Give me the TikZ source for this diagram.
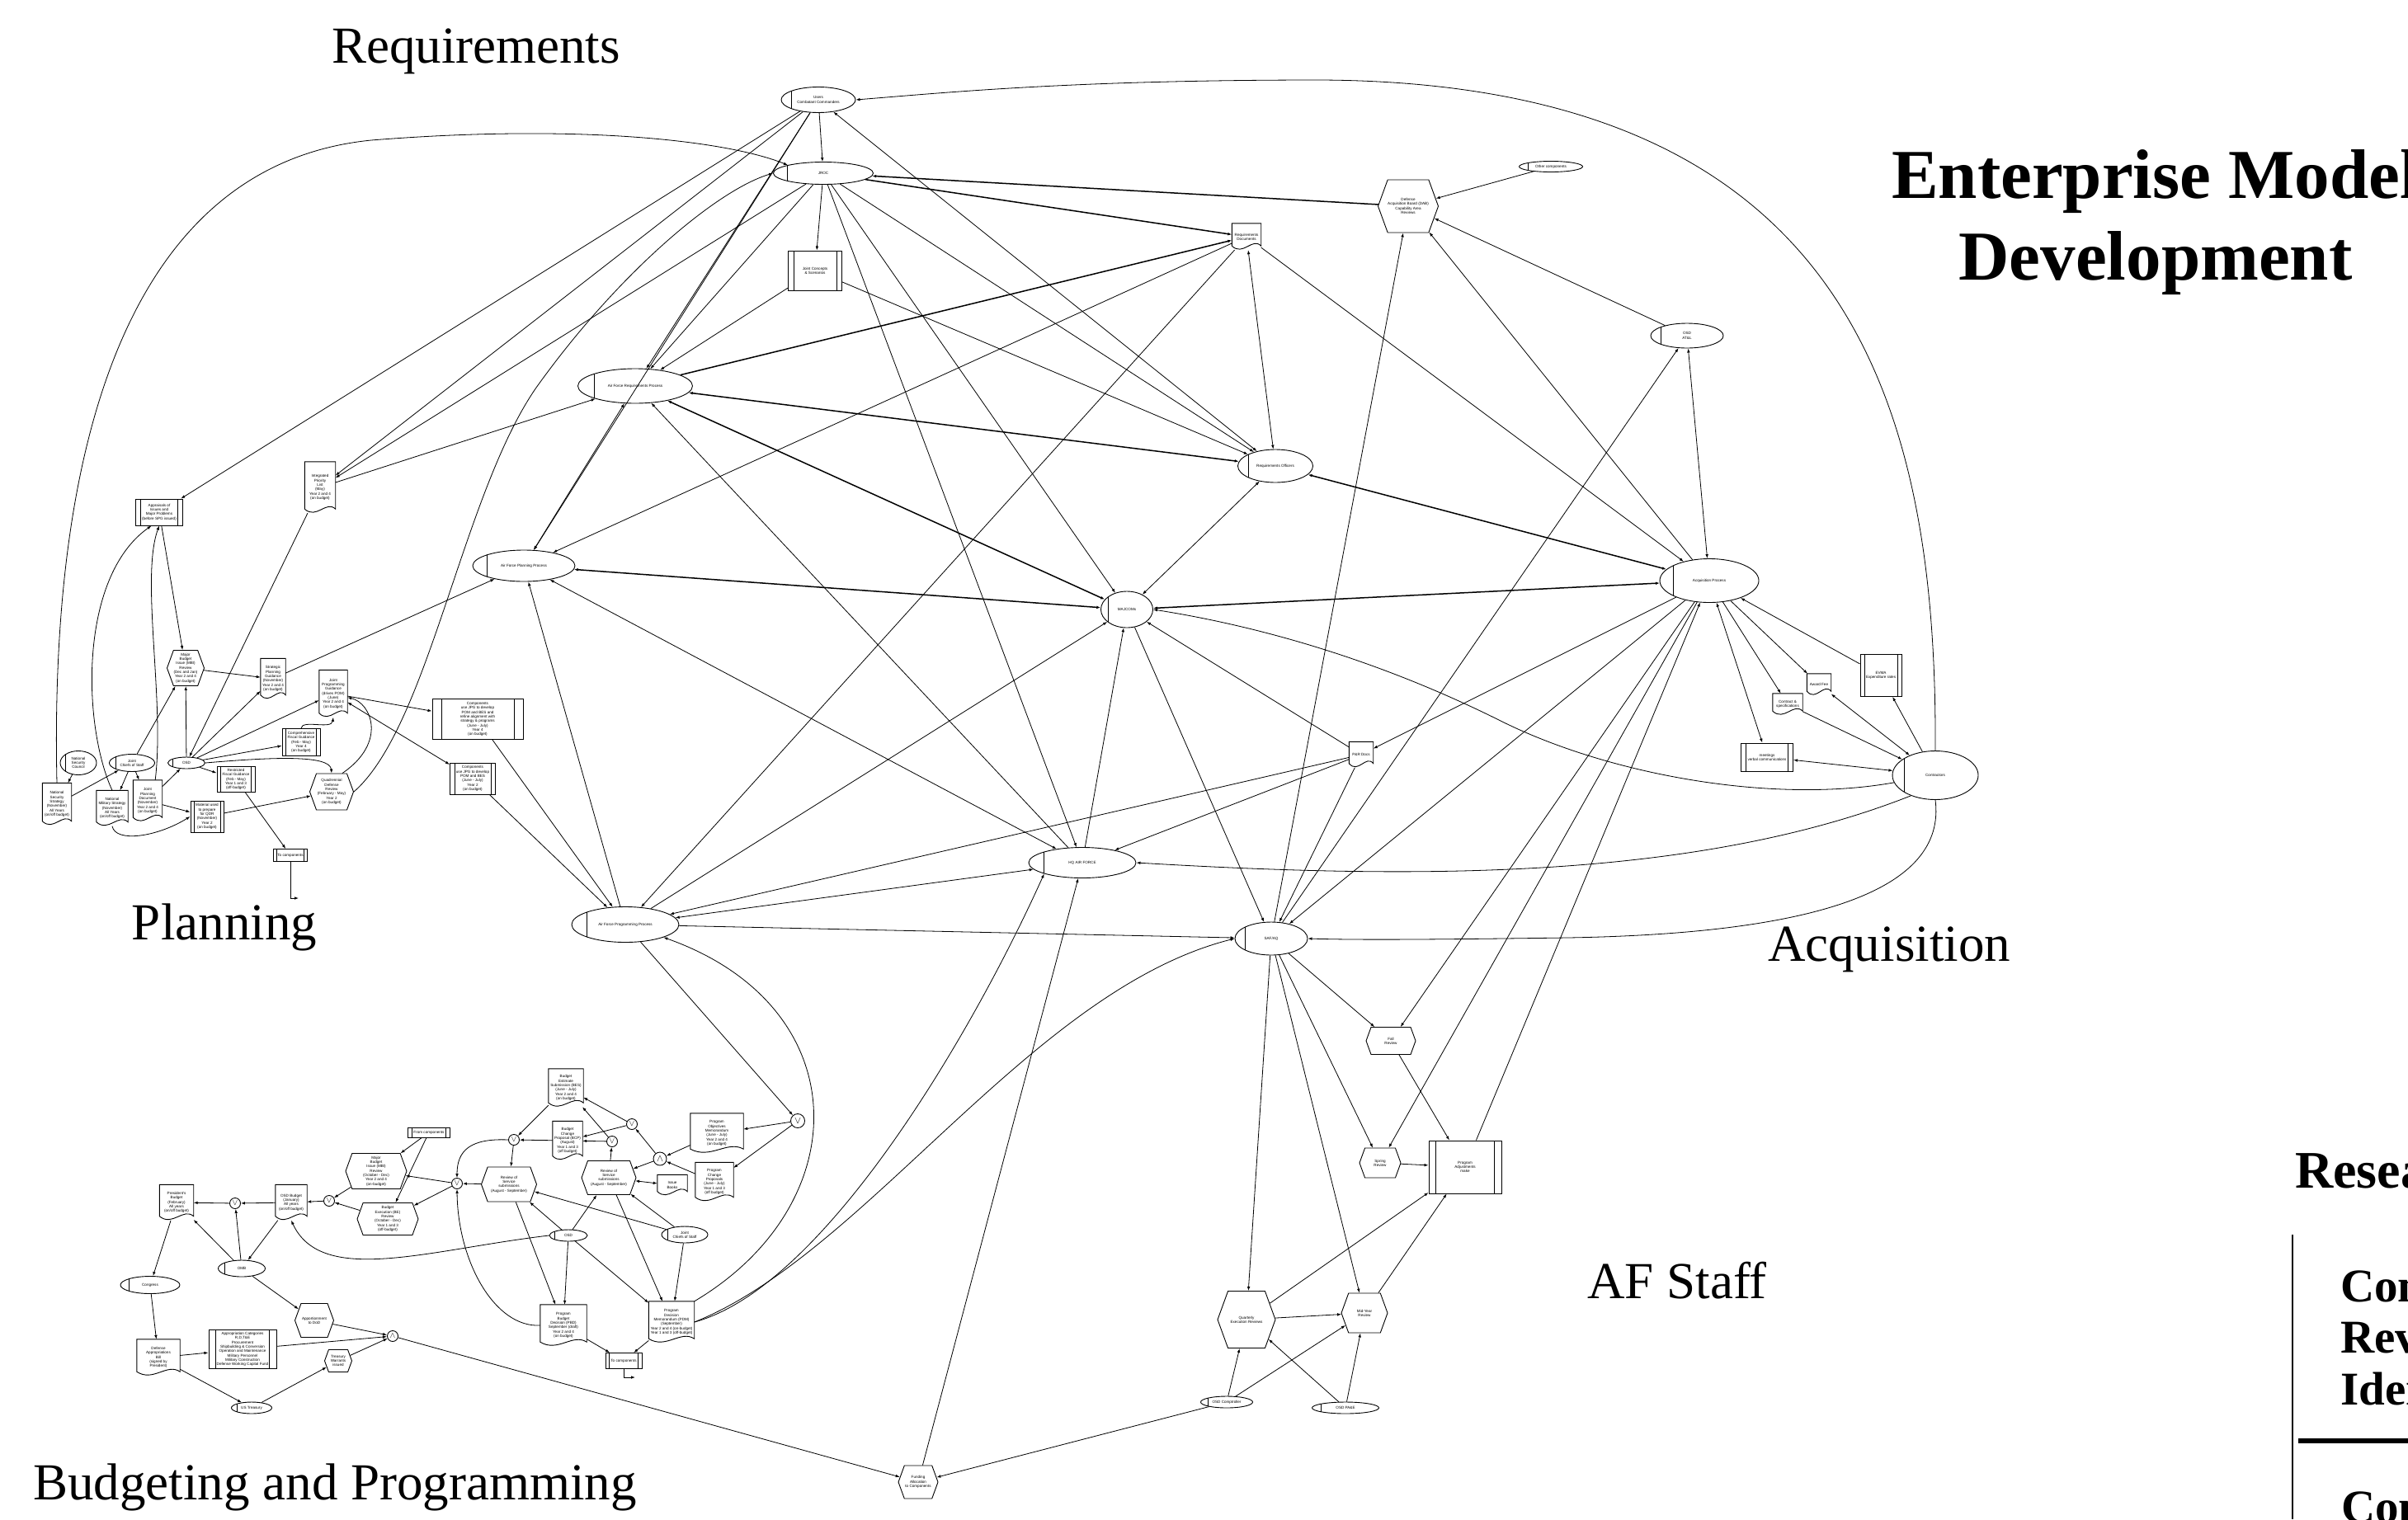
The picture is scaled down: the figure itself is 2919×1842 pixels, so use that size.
\documentclass[tikz,border=0pt]{standalone}
\usepackage{fontspec}
\setmainfont{Liberation Serif}
\newfontfamily\nodefont{Liberation Sans}
\usetikzlibrary{arrows.meta, calc, shapes.geometric, shapes.symbols}

\tikzset{
  small/.style={font=\nodefont\fontsize{4.6}{5.3}\selectfont},
  area/.style={font=\fontsize{63}{70}\selectfont, inner sep=0pt},
  actor/.style={small, draw, ellipse, line width=.9pt, align=center, inner sep=0pt,
    path picture={\draw[line width=.9pt]
      ($(path picture bounding box.north west)!.14!(path picture bounding box.north east)$) --
      ($(path picture bounding box.south west)!.14!(path picture bounding box.south east)$);}},
  proc/.style={small, draw, rectangle, line width=.9pt, align=center, inner sep=1pt,
    path picture={\draw[line width=.9pt]
      ($(path picture bounding box.north west)!.1!(path picture bounding box.north east)$) --
      ($(path picture bounding box.south west)!.1!(path picture bounding box.south east)$)
      ($(path picture bounding box.north east)!.1!(path picture bounding box.north west)$) --
      ($(path picture bounding box.south east)!.1!(path picture bounding box.south west)$);}},
  hexa/.style={small, draw, signal, signal to=east and west, signal pointer angle=140,
    line width=.9pt, align=center, inner sep=0pt},
  doc/.style={small, align=center, inner sep=1pt,
    execute at end node={\\[1pt]\mbox{}},
    append after command={\pgfextra{\draw[line width=.9pt]
      (\tikzlastnode.north west) -- (\tikzlastnode.north east)
      -- ([yshift=5pt]\tikzlastnode.south east)
      .. controls ($(\tikzlastnode.south east)!.3!(\tikzlastnode.south west)+(0pt,16pt)$)
      and ($(\tikzlastnode.south east)!.62!(\tikzlastnode.south west)+(0pt,-8pt)$)
      .. ([yshift=5pt]\tikzlastnode.south west) -- cycle;}}},
  orj/.style={draw, circle, line width=.9pt, inner sep=0pt, minimum size=13,
    font=\fontsize{10}{10}\selectfont},
  flow/.style={draw, line width=.8pt, -{Latex[length=5pt,width=3.6pt]}},
  twoway/.style={flow, {Latex[length=5pt,width=3.6pt]}-{Latex[length=5pt,width=3.6pt]}},
  heavy/.style={line width=1.5pt}
}

\begin{document}
\begin{tikzpicture}[x=1pt, y=-1pt]
\fill[white] (0,0) rectangle (2919,1842);
\useasboundingbox (0,0) rectangle (2919,1842);

\node[area] (lreq) at (577,62) {Requirements};
\node[area] (lplan) at (272,1124) {Planning};
\node[area] (lbud) at (406,1803) {Budgeting and Programming};
\node[area] (lacq) at (2290,1151) {Acquisition};
\node[area] (lstaff) at (2033,1553) {AF Staff};
\node[font=\bfseries\fontsize{85}{99}\selectfont, align=center, inner sep=0pt] (title) at (2613,270) {Enterprise Model\\Development};
\node[font=\bfseries\fontsize{64}{64}\selectfont, anchor=base west, inner sep=0pt] (research) at (2782,1440) {Resea};
\node[font=\bfseries\fontsize{57}{57}\selectfont, anchor=base west, inner sep=0pt] (rconA) at (2837,1578) {Con};
\node[font=\bfseries\fontsize{57}{57}\selectfont, anchor=base west, inner sep=0pt] (rrev) at (2837,1640) {Rev};
\node[font=\bfseries\fontsize{57}{57}\selectfont, anchor=base west, inner sep=0pt] (riden) at (2837,1703) {Iden};
\node[font=\bfseries\fontsize{57}{57}\selectfont, anchor=base west, inner sep=0pt] (rconB) at (2838,1846) {Con};
\draw[line width=1.2pt] (2779,1497) -- (2779,1842);
\draw[line width=6pt] (2786,1747) -- (2919,1747);

\node[actor, minimum width=90, minimum height=31] (users) at (992,121) {Users\\Combatant Commanders};
\node[actor, minimum width=121, minimum height=27] (jroc) at (998,210) {JROC};
\node[proc, minimum width=65, minimum height=48] (concepts) at (988,328) {Joint Concepts\\\& Scenarios};
\node[doc, minimum width=35, minimum height=32] (reqdocs) at (1511,287) {Requirements\\Documents};
\node[hexa, minimum width=73, minimum height=64] (dab) at (1707,250) {Defense\\Acquisition Board (DAB)\\Capability Area\\Reviews};
\node[actor, minimum width=77, minimum height=13] (othcomp) at (1880,202) {Other components};
\node[actor, minimum width=88, minimum height=30] (osdatl) at (2045,407) {OSD\\AT\&L};
\node[actor, minimum width=139, minimum height=42] (afreq) at (770,468) {Air Force Requirements Process};
\node[actor, minimum width=91, minimum height=40] (reqoff) at (1546,565) {Requirements Officers};
\node[actor, minimum width=124, minimum height=38] (afplan) at (635,686) {Air Force Planning Process};
\node[actor, minimum width=63, minimum height=44] (majcom) at (1366,739) {MAJCOMs};
\node[actor, minimum width=120, minimum height=53] (acqproc) at (2072,704) {Acquisition Process};
\node[actor, minimum width=104, minimum height=59] (contractors) at (2346,940) {Contractors};
\node[doc, minimum width=29, minimum height=26] (awardfee) at (2205,830) {Award Fee};
\node[doc, minimum width=36, minimum height=26] (contract) at (2167,854) {Contract \&\\specifications};
\node[proc, minimum width=50, minimum height=51] (evma) at (2280,819) {EVMA\\Expenditure rates};
\node[proc, minimum width=63, minimum height=34] (meetings) at (2142,918) {meetings\\verbal communications};
\node[doc, minimum width=29, minimum height=31] (prdocs) at (1650,915) {P\&R Docs};
\node[actor, minimum width=130, minimum height=37] (hqaf) at (1312,1046) {HQ AIR FORCE};
\node[actor, minimum width=88, minimum height=40] (safaq) at (1541,1138) {SAF/AQ};
\node[actor, minimum width=130, minimum height=43] (afprog) at (758,1121) {Air Force Programming Process};

\node[proc, minimum width=57, minimum height=32] (appraisals) at (193,621) {Appraisals of\\Issues and\\Major Problems\\(before SPG issued)};
\node[doc, minimum width=37, minimum height=62] (ipl) at (388,591) {Integrated\\Priority\\List\\(May)\\Year 2 and 4\\(on budget)};
\node[hexa, minimum width=45, minimum height=43] (mbiplan) at (225,810) {Major\\Budget\\Issue (MBI)\\Review\\(Dec and Jan)\\Year 2 and 4\\(on budget)};
\node[doc, minimum width=30, minimum height=49] (spg) at (331,823) {Strategic\\Planning\\Guidance\\(November)\\Year 2 and 4\\(on budget)};
\node[doc, minimum width=34, minimum height=57] (jpg) at (404,841) {Joint\\Programming\\Guidance\\(drives POM)\\(June)\\Year 2 and 4\\(on budget)};
\node[proc, minimum width=46, minimum height=33] (cfg) at (365,900) {Comprehensive\\Fiscal Guidance\\(Feb - May)\\Year 4\\(on budget)};
\node[actor, minimum width=45, minimum height=14] (osdplan) at (226,925) {OSD};
\node[actor, minimum width=44, minimum height=29] (nsc) at (95,925) {National\\Security\\Council};
\node[actor, minimum width=55, minimum height=21] (jcsplan) at (160,925) {Joint\\Chiefs of Staff};
\node[doc, minimum width=35, minimum height=51] (nss) at (69,975) {National\\Security\\Strategy\\(November)\\All Years\\(on/off budget)};
\node[doc, minimum width=38, minimum height=43] (nms) at (136,980) {National\\Military Strategy\\(November)\\All Years\\(on/off budget)};
\node[doc, minimum width=35, minimum height=50] (jpd) at (179,971) {Joint\\Planning\\Document\\(November)\\Year 2 and 4\\(on budget)};
\node[proc, minimum width=46, minimum height=31] (rfg) at (286,945) {Restricted\\Fiscal Guidance\\(Feb - May)\\Year 1 and 3\\(off-budget)};
\node[proc, minimum width=40, minimum height=38] (qdrmat) at (251,990) {Material used\\to prepare\\for QDR\\(November)\\Year 2\\(on budget)};
\node[hexa, minimum width=53, minimum height=44] (qdr) at (402,960) {Quadrennial\\Defense\\Review\\(February - May)\\Year 2\\(on budget)};
\node[proc, minimum width=41, minimum height=15] (tocompA) at (352,1037) {To components};
\node[proc, minimum width=110, minimum height=49] (compyr4) at (579,872) {Components\\use JPG to develop\\POM and BES and\\refine alignment with\\strategy \& programs\\(June - July)\\Year 4\\(on budget)};
\node[proc, minimum width=55, minimum height=38] (compyr2) at (573,944) {Components\\use JPG to develop\\POM and BES\\(June - July)\\Year 2\\(on budget)};
\coordinate (tocompAend) at (362,1089);

\node[proc, minimum width=51, minimum height=12] (fromcomp) at (520,1373) {From components};
\node[hexa, minimum width=74, minimum height=43] (mbibud) at (456,1420) {Major\\Budget\\Issue (MBI)\\Review\\(October - Dec)\\Year 2 and 4\\(on-budget)};
\node[hexa, minimum width=74, minimum height=39] (bereview) at (470,1478) {Budget\\Execution (BE)\\Review\\(October - Dec)\\Year 1 and 3\\(off-budget)};
\node[doc, minimum width=38, minimum height=43] (osdbudget) at (353,1458) {OSD Budget\\(January)\\All years\\(on/off budget)};
\node[doc, minimum width=41, minimum height=43] (presbudget) at (214,1458) {President's\\Budget\\(February)\\All years\\(on/off budget)};
\node[actor, minimum width=57, minimum height=20] (omb) at (293,1538) {OMB};
\node[actor, minimum width=72, minimum height=21] (congress) at (182,1558) {Congress};
\node[doc, minimum width=52, minimum height=44] (approbill) at (192,1646) {Defense\\Appropriations\\Bill\\(signed by\\President)};
\node[proc, minimum width=82, minimum height=47] (approcat) at (294,1636) {Appropriation Categories\\R,D,T\&E\\Procurement\\Shipbuilding \& Conversion\\Operation and Maintenance\\Military Personnel\\Military Construction\\Defense Working Capital Fund};
\node[hexa, minimum width=47, minimum height=41] (apportion) at (381,1601) {Apportionment\\to DoD};
\node[hexa, minimum width=33, minimum height=27] (warrants) at (410,1650) {Treasury\\Warrants\\issued};
\node[actor, minimum width=49, minimum height=14] (treasury) at (305,1707) {US Treasury};
\node[hexa, minimum width=67, minimum height=42] (reviewA) at (617,1436) {Review of\\Service\\submissions\\(August - September)};
\node[hexa, minimum width=66, minimum height=41] (reviewB) at (738,1428) {Review of\\Service\\submissions\\(August - September)};
\node[doc, minimum width=42, minimum height=46] (bes) at (686,1319) {Budget\\Estimate\\Submission (BES)\\(June - July)\\Year 2 and 4\\(on budget)};
\node[doc, minimum width=36, minimum height=47] (bcp) at (688,1383) {Budget\\Change\\Proposal (BCP)\\(August)\\Year 1 and 3\\(off budget)};
\node[doc, minimum width=64, minimum height=48] (pom) at (869,1374) {Program\\Objectives\\Memorandum\\(June - July)\\Year 2 and 4\\(on budget)};
\node[doc, minimum width=46, minimum height=47] (pcp) at (866,1433) {Program\\Change\\Proposals\\(June - July)\\Year 1 and 3\\(off budget)};
\node[doc, minimum width=36, minimum height=25] (issuebooks) at (815,1437) {Issue\\Books};
\node[actor, minimum width=46, minimum height=14] (osdbud) at (689,1498) {OSD};
\node[actor, minimum width=56, minimum height=20] (jcsbud) at (830,1497) {Joint\\Chiefs of Staff};
\node[doc, minimum width=56, minimum height=50] (pbd) at (683,1607) {Program\\Budget\\Decision (PBD)\\September (draft)\\Year 2 and 4\\(on budget)};
\node[doc, minimum width=55, minimum height=50] (pdm) at (814,1603) {Program\\Decision\\Memorandum (PDM)\\(September)\\Year 2 and 4 (on-budget)\\Year 1 and 3 (off-budget)};
\node[proc, minimum width=44, minimum height=19] (tocompB) at (756,1650) {To components};
\coordinate (tocompBend) at (770,1670);
\node[orj] (orA) at (399,1456) {$\vee$};
\node[orj] (orB) at (285,1459) {$\vee$};
\node[orj] (orC) at (554,1435) {$\vee$};
\node[orj] (orD) at (623,1382) {$\vee$};
\node[orj] (orE) at (742,1384) {$\vee$};
\node[orj] (orF) at (766,1363) {$\vee$};
\node[orj, minimum size=17, font=\fontsize{13}{13}\selectfont] (orG) at (967,1359) {$\vee$};
\node[orj] (andA) at (476,1620) {$\wedge$};
\node[orj, minimum size=16, font=\fontsize{12}{12}\selectfont] (andB) at (800,1405) {$\wedge$};

\node[hexa, minimum width=60, minimum height=33] (fall) at (1686,1262) {Fall\\Review};
\node[hexa, minimum width=50, minimum height=36] (spring) at (1673,1410) {Spring\\Review};
\node[proc, minimum width=88, minimum height=64] (progadj) at (1776,1415) {Program\\Adjustments\\make};
\node[hexa, minimum width=70, minimum height=69] (quarterly) at (1511,1600) {Quarterly\\Execution Reviews};
\node[hexa, minimum width=56, minimum height=48] (midyear) at (1654,1592) {Mid-Year\\Review};
\node[actor, minimum width=63, minimum height=14] (osdcomp) at (1487,1700) {OSD Comptroller};
\node[actor, minimum width=81, minimum height=14] (osdpae) at (1631,1707) {OSD PA\&E};
\node[hexa, minimum width=48, minimum height=40] (funding) at (1113,1797) {Funding\\Allocation\\to Components};

\draw[flow] (contractors.north) .. controls (2348,500) and (2250,100) .. (1600,97) .. controls (1300,97) and (1150,112) .. (users.east);
\draw[flow] (users) -- (jroc);
\draw[flow] (users) -- (appraisals);
\draw[flow] (users) -- (ipl);
\draw[flow] (users) -- (afreq);
\draw[flow] (users) -- (afplan);
\draw[twoway] (users) -- (reqoff);
\draw[flow] (jroc) -- (ipl);
\draw[flow] (jroc) -- (afreq);
\draw[flow] (jroc) -- (concepts);
\draw[flow, heavy] (jroc) -- (reqdocs);
\draw[flow, heavy] (dab) -- (jroc);
\draw[flow] (othcomp) -- (dab);
\draw[flow] (osdatl) -- (dab);
\draw[flow] (safaq) -- (dab);
\draw[flow] (acqproc) -- (dab);
\draw[flow] (jroc) -- (reqoff);
\draw[flow] (jroc) -- (majcom);
\draw[flow] (jroc) -- (hqaf);
\draw[flow] (nss.north) .. controls (60,550) and (150,200) .. (450,170) .. controls (700,150) and (880,170) .. (jroc.north west);
\draw[flow] (qdr.east) .. controls (520,880) and (560,600) .. (650,470) .. controls (750,330) and (870,230) .. (jroc.west);
\draw[flow] (concepts) -- (afreq);
\draw[flow] (concepts) -- (reqoff);
\draw[flow, heavy] (afreq) -- (reqdocs);
\draw[flow] (reqdocs) -- (afplan);
\draw[flow] (reqdocs) -- (afprog);
\draw[twoway] (reqdocs) -- (reqoff);
\draw[flow] (reqdocs) -- (acqproc);
\draw[flow] (ipl) -- (afreq);
\draw[twoway, heavy] (afreq) -- (reqoff);
\draw[twoway] (afreq) -- (afplan);
\draw[flow] (hqaf) -- (afreq);
\draw[twoway, heavy] (afreq) -- (majcom);
\draw[twoway, heavy] (afplan) -- (majcom);
\draw[flow] (afprog) -- (afplan);
\draw[twoway] (afplan) -- (hqaf);
\draw[flow] (spg) -- (afplan);
\draw[twoway, heavy] (majcom) -- (acqproc);
\draw[flow] (contractors.190) .. controls (2150,975) and (1950,940) .. (1817,873) .. controls (1650,790) and (1500,755) .. (majcom.east);
\draw[flow] (prdocs) -- (majcom);
\draw[flow] (majcom) -- (safaq);
\draw[flow] (hqaf) -- (majcom);
\draw[twoway] (reqoff) -- (majcom);
\draw[flow] (afprog) -- (majcom);
\draw[twoway, heavy] (reqoff) -- (acqproc);
\draw[twoway] (osdatl) -- (acqproc);
\draw[flow] (safaq) -- (osdatl);
\draw[flow] (acqproc) -- (prdocs);
\draw[flow] (prdocs) -- (afprog);
\draw[flow] (prdocs) -- (hqaf);
\draw[flow] (prdocs) -- (safaq);
\draw[flow] (acqproc) -- (safaq);
\draw[flow] (contractors.south) .. controls (2360,1080) and (2200,1132) .. (1900,1137) .. controls (1750,1139) and (1650,1140) .. (safaq.east);
\draw[flow] (afprog) -- (safaq);
\draw[flow] (contractors.220) .. controls (2050,1070) and (1700,1065) .. (hqaf.east);
\draw[twoway] (hqaf) -- (afprog);

\draw[twoway] (acqproc) -- (meetings);
\draw[flow] (acqproc) -- (contract);
\draw[flow] (acqproc) -- (awardfee);
\draw[flow] (evma) -- (acqproc);
\draw[twoway] (meetings) -- (contractors);
\draw[flow] (contract) -- (contractors);
\draw[twoway] (awardfee) -- (contractors);
\draw[flow] (contractors) -- (evma);

\draw[flow] (safaq) -- (fall);
\draw[flow] (safaq) -- (spring);
\draw[flow] (safaq) -- (quarterly);
\draw[flow] (safaq) -- (midyear);
\draw[flow] (acqproc) -- (fall);
\draw[flow] (acqproc) -- (spring);
\draw[flow] (progadj) -- (acqproc);
\draw[flow] (fall) -- (progadj);
\draw[flow] (spring) -- (progadj);
\draw[flow] (quarterly) -- (progadj);
\draw[flow] (midyear) -- (progadj);
\draw[flow] (quarterly) -- (midyear);
\draw[flow] (osdcomp) -- (quarterly);
\draw[flow] (osdcomp) -- (midyear);
\draw[flow] (osdpae) -- (quarterly);
\draw[flow] (osdpae) -- (midyear);
\draw[flow] (osdcomp) -- (funding);
\draw[flow] (andA) -- (funding);
\draw[flow] (funding) -- (hqaf);

\draw[flow] (appraisals) -- (mbiplan);
\draw[flow] (nms.north) .. controls (100,880) and (95,700) .. (appraisals.240);
\draw[flow] (jpd.70) .. controls (200,850) and (170,700) .. (appraisals.south);
\draw[flow] (ipl) -- (osdplan);
\draw[flow] (mbiplan) -- (spg);
\draw[flow] (jcsplan) -- (mbiplan);
\draw[flow] (osdplan) -- (mbiplan);
\draw[flow] (osdplan) -- (spg);
\draw[flow] (osdplan) -- (jpg);
\draw[flow] (osdplan) -- (cfg);
\draw[flow] (osdplan) -- (rfg);
\draw[flow] (osdplan.east) .. controls (330,918) and (400,915) .. (qdr.north);
\draw[flow] (cfg.north) .. controls (366,872) and (402,885) .. (jpg.south);
\draw[flow] (rfg) -- (tocompA);
\draw[flow] (tocompA.south) |- (tocompAend);
\draw[flow] (nsc) -- (nss);
\draw[flow] (nss) -- (jcsplan);
\draw[flow] (jcsplan) -- (nms);
\draw[flow] (jcsplan) -- (jpd);
\draw[flow] (jpd) -- (osdplan);
\draw[flow] (jpd) -- (qdrmat);
\draw[flow] (nms.south) .. controls (140,1022) and (190,1015) .. (qdrmat.west);
\draw[flow] (qdrmat) -- (qdr);
\draw[flow] (qdr.60) .. controls (470,900) and (450,852) .. (jpg.-15);
\draw[flow] (jpg) -- (compyr4);
\draw[twoway] (jpg) -- (compyr2);
\draw[flow] (compyr4) -- (afprog);
\draw[flow] (compyr2) -- (afprog);

\draw[flow] (fromcomp) -- (mbibud);
\draw[flow] (fromcomp) -- (bereview);
\draw[flow] (orC) -- (mbibud);
\draw[flow] (orC) -- (bereview);
\draw[flow] (reviewA) -- (orC);
\draw[flow] (orD.west) .. controls (570,1380) and (554,1395) .. (orC.north);
\draw[flow] (pbd.west) .. controls (600,1610) and (555,1530) .. (orC.south);
\draw[flow] (mbibud) -- (orA);
\draw[flow] (bereview) -- (orA);
\draw[flow] (orA) -- (osdbudget);
\draw[flow] (osdbudget) -- (orB);
\draw[flow] (orB) -- (presbudget);
\draw[flow] (omb) -- (orB);
\draw[flow] (omb) -- (presbudget);
\draw[flow] (osdbudget) -- (omb);
\draw[flow] (presbudget) -- (congress);
\draw[flow] (congress) -- (approbill);
\draw[flow] (approbill) -- (approcat);
\draw[flow] (approbill) -- (treasury);
\draw[flow] (treasury) -- (warrants);
\draw[flow] (omb) -- (apportion);
\draw[flow] (apportion) -- (andA);
\draw[flow] (approcat) -- (andA);
\draw[flow] (warrants) -- (andA);
\draw[flow] (osdbud.west) .. controls (520,1515) and (390,1560) .. (osdbudget.south);
\draw[flow] (bes) -- (orD);
\draw[flow] (bcp) -- (orD);
\draw[flow] (orD) -- (reviewA);
\draw[flow] (orE) -- (bcp);
\draw[flow] (orE) -- (bes);
\draw[flow] (orF) -- (bcp);
\draw[flow] (orF) -- (bes);
\draw[flow] (reviewB) -- (orE);
\draw[flow] (andB) -- (orF);
\draw[flow] (andB) -- (reviewB);
\draw[flow] (pom) -- (andB);
\draw[flow] (pcp) -- (andB);
\draw[flow] (orG) -- (pom);
\draw[flow] (orG) -- (pcp);
\draw[twoway] (reviewB) -- (issuebooks);
\draw[flow] (osdbud) -- (reviewA);
\draw[flow] (osdbud) -- (reviewB);
\draw[flow] (osdbud) -- (pbd);
\draw[flow] (osdbud) -- (pdm);
\draw[flow] (jcsbud) -- (reviewA);
\draw[flow] (jcsbud) -- (reviewB);
\draw[flow] (jcsbud) -- (pdm);
\draw[flow] (reviewA) -- (pbd);
\draw[flow] (reviewB) -- (pdm);
\draw[flow] (pbd) -- (tocompB);
\draw[flow] (pdm) -- (tocompB);
\draw[flow] (tocompB.south) |- (tocompBend);
\draw[flow] (afprog) -- (orG);
\draw[flow] (pdm.north east) .. controls (1040,1460) and (1040,1220) .. (afprog.south east);
\draw[flow] (pdm.east) .. controls (1000,1560) and (1180,1250) .. (hqaf.south west);
\draw[flow] (pdm.east) .. controls (1050,1520) and (1250,1200) .. (safaq.west);
\end{tikzpicture}
\end{document}
